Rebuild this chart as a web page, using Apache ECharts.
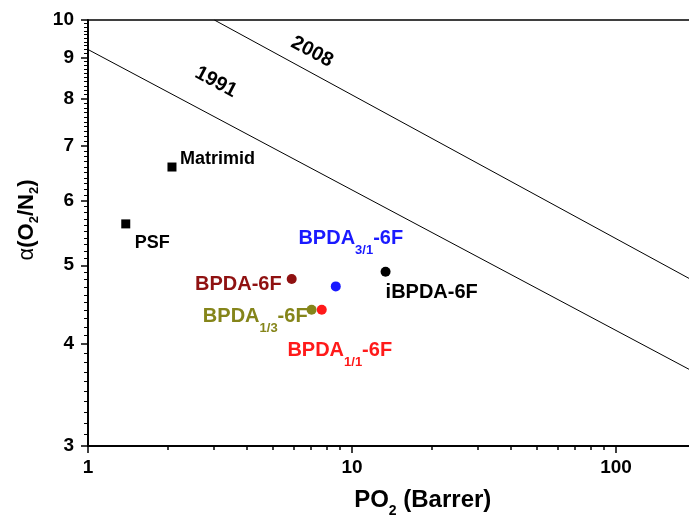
<!DOCTYPE html>
<html>
<head>
<meta charset="utf-8">
<script src="https://cdn.jsdelivr.net/npm/echarts@6/dist/echarts.min.js"></script>
<style>
  html, body { margin: 0; padding: 0; background: #fff; }
  #chart { width: 689px; height: 517px; }
</style>
</head>
<body>
<div id="chart"></div>
<script>
// membranes (subscripts written as _{..})
const membranes = ['Matrimid', 'PSF', 'BPDA-6F', 'BPDA_{3/1}-6F', 'iBPDA-6F', 'BPDA_{1/3}-6F', 'BPDA_{1/1}-6F'];
const po2 = [2.08, 1.39, 5.91, 8.68, 13.4, 7.03, 7.68];
const selectivity = [6.60, 5.62, 4.81, 4.71, 4.91, 4.41, 4.41];

// Robeson upper bound lines, end points
const boundYears = ['1991', '2008'];
const bound1991 = [[1, 9.2], [200, 3.69]];
const bound2008 = [[3.01, 10], [200, 4.77]];

const xTicks = [1, 10, 100];
const yTicks = [3, 4, 5, 6, 7, 8, 9, 10];

const FONT = 'Arial, "Liberation Sans", sans-serif';

// per-membrane look: marker, colour, where the label sits
const look = {
  'Matrimid':      { color: '#000000', symbol: 'rect',   size: 9,  fontSize: 18, align: 'left',   offset: [8, -8] },
  'PSF':           { color: '#000000', symbol: 'rect',   size: 9,  fontSize: 18, align: 'left',   offset: [9, 19] },
  'BPDA-6F':       { color: '#8f1111', symbol: 'circle', size: 10, fontSize: 20, align: 'right',  offset: [-10, 6] },
  'BPDA_{3/1}-6F': { color: '#1a1aff', symbol: 'circle', size: 10, fontSize: 20, align: 'center', offset: [15, -48] },
  'iBPDA-6F':      { color: '#000000', symbol: 'circle', size: 10, fontSize: 20, align: 'left',   offset: [0, 21] },
  'BPDA_{1/3}-6F': { color: '#85851a', symbol: 'circle', size: 10, fontSize: 20, align: 'right',  offset: [-4, 7] },
  'BPDA_{1/1}-6F': { color: '#ff1a1a', symbol: 'circle', size: 10, fontSize: 20, align: 'center', offset: [18, 41] }
};
const tagAt = { '1991': [3.05, 8.39], '2008': [7.06, 9.14] };

const sub = s => s.replace(/_\{([^}]*)\}/g, '{s|$1}');

const xMinor = [];
xTicks.forEach(d => { for (let k = 2; k <= 9; k++) if (k * d <= 200) xMinor.push(k * d); });
const yMinor = [];
for (let v = 31; v < 100; v++) if (v % 10) yMinor.push(v / 10);

const line = { color: '#000', width: 1.5 };
const tickFont = { fontSize: 19, fontWeight: 'bold', color: '#000', fontFamily: FONT };

const chart = echarts.init(document.getElementById('chart'));

const points = membranes.map((m, i) => {
  const l = look[m];
  return {
    name: m,
    value: [po2[i], selectivity[i]],
    symbol: l.symbol,
    symbolSize: l.size,
    itemStyle: { color: l.color, opacity: 1 },
    label: {
      show: true, position: 'inside', align: l.align, verticalAlign: 'middle',
      offset: l.offset, formatter: sub(m), color: l.color, opacity: 1,
      fontSize: l.fontSize, fontWeight: 'bold', fontFamily: FONT,
      rich: { s: { fontSize: 13, fontWeight: 'bold', color: l.color, fontFamily: FONT, padding: [24, 0, 0, 0] } }
    }
  };
});

chart.setOption({
  animation: false,
  grid: {
    left: 88, right: -6.5, top: 20, bottom: 71, outerBoundsMode: 'none', containLabel: false,
    show: true, borderColor: '#000', borderWidth: 1.5, backgroundColor: 'transparent'
  },
  xAxis: [
    {
      type: 'log', min: 1, max: 200, position: 'bottom',
      axisLine: { lineStyle: line }, splitLine: { show: false },
      axisTick: { length: 7, customValues: xTicks, lineStyle: line },
      axisLabel: Object.assign({ customValues: xTicks, margin: 12 }, tickFont),
      name: 'PO{s|2} (Barrer)', nameLocation: 'middle', nameGap: 36,
      nameTextStyle: {
        fontSize: 24, fontWeight: 'bold', color: '#000', fontFamily: FONT, padding: [0, 0, 0, 62],
        rich: { s: { fontSize: 14, fontWeight: 'bold', color: '#000', fontFamily: FONT, padding: [22, 0, 0, 0] } }
      }
    },
    {
      type: 'log', min: 1, max: 200, position: 'bottom',
      axisLine: { lineStyle: line }, splitLine: { show: false },
      axisTick: { length: 4, customValues: xMinor, lineStyle: line },
      axisLabel: { show: false }
    }
  ],
  yAxis: [
    {
      type: 'log', min: 3, max: 10, position: 'left',
      axisLine: { show: true, lineStyle: line }, splitLine: { show: false },
      axisTick: { show: true, length: 7, customValues: yTicks, lineStyle: line },
      axisLabel: Object.assign({ customValues: yTicks, margin: 14 }, tickFont),
      name: '{a|α}(O{s|2}/N{s|2})', nameLocation: 'middle', nameGap: 47,
      nameTextStyle: {
        fontSize: 22, fontWeight: 'bold', color: '#000', fontFamily: FONT, padding: [0, 0, 0, 26],
        rich: {
          a: { fontSize: 22, fontWeight: 'normal', color: '#000', fontFamily: FONT },
          s: { fontSize: 13, fontWeight: 'bold', color: '#000', fontFamily: FONT, padding: [16, 0, 0, 0] }
        }
      }
    },
    {
      type: 'log', min: 3, max: 10, position: 'left',
      axisLine: { show: true, lineStyle: line }, splitLine: { show: false },
      axisTick: { show: true, length: 4, customValues: yMinor, lineStyle: { color: '#000', width: 1 } },
      axisLabel: { show: false }
    }
  ],
  series: [
    { type: 'line', name: '1991', data: bound1991, symbol: 'none', silent: true, lineStyle: { color: '#000', width: 1 } },
    { type: 'line', name: '2008', data: bound2008, symbol: 'none', silent: true, lineStyle: { color: '#000', width: 1 } },
    {
      type: 'scatter', silent: true, symbolSize: 1, itemStyle: { color: 'transparent', opacity: 1 },
      data: boundYears.map(y => ({ value: tagAt[y], name: y })),
      label: { show: true, position: 'inside', formatter: '{b}', rotate: -28, color: '#000', opacity: 1, fontSize: 20, fontWeight: 'bold', fontFamily: FONT }
    },
    { type: 'scatter', silent: true, data: points }
  ]
});
</script>
</body>
</html>
